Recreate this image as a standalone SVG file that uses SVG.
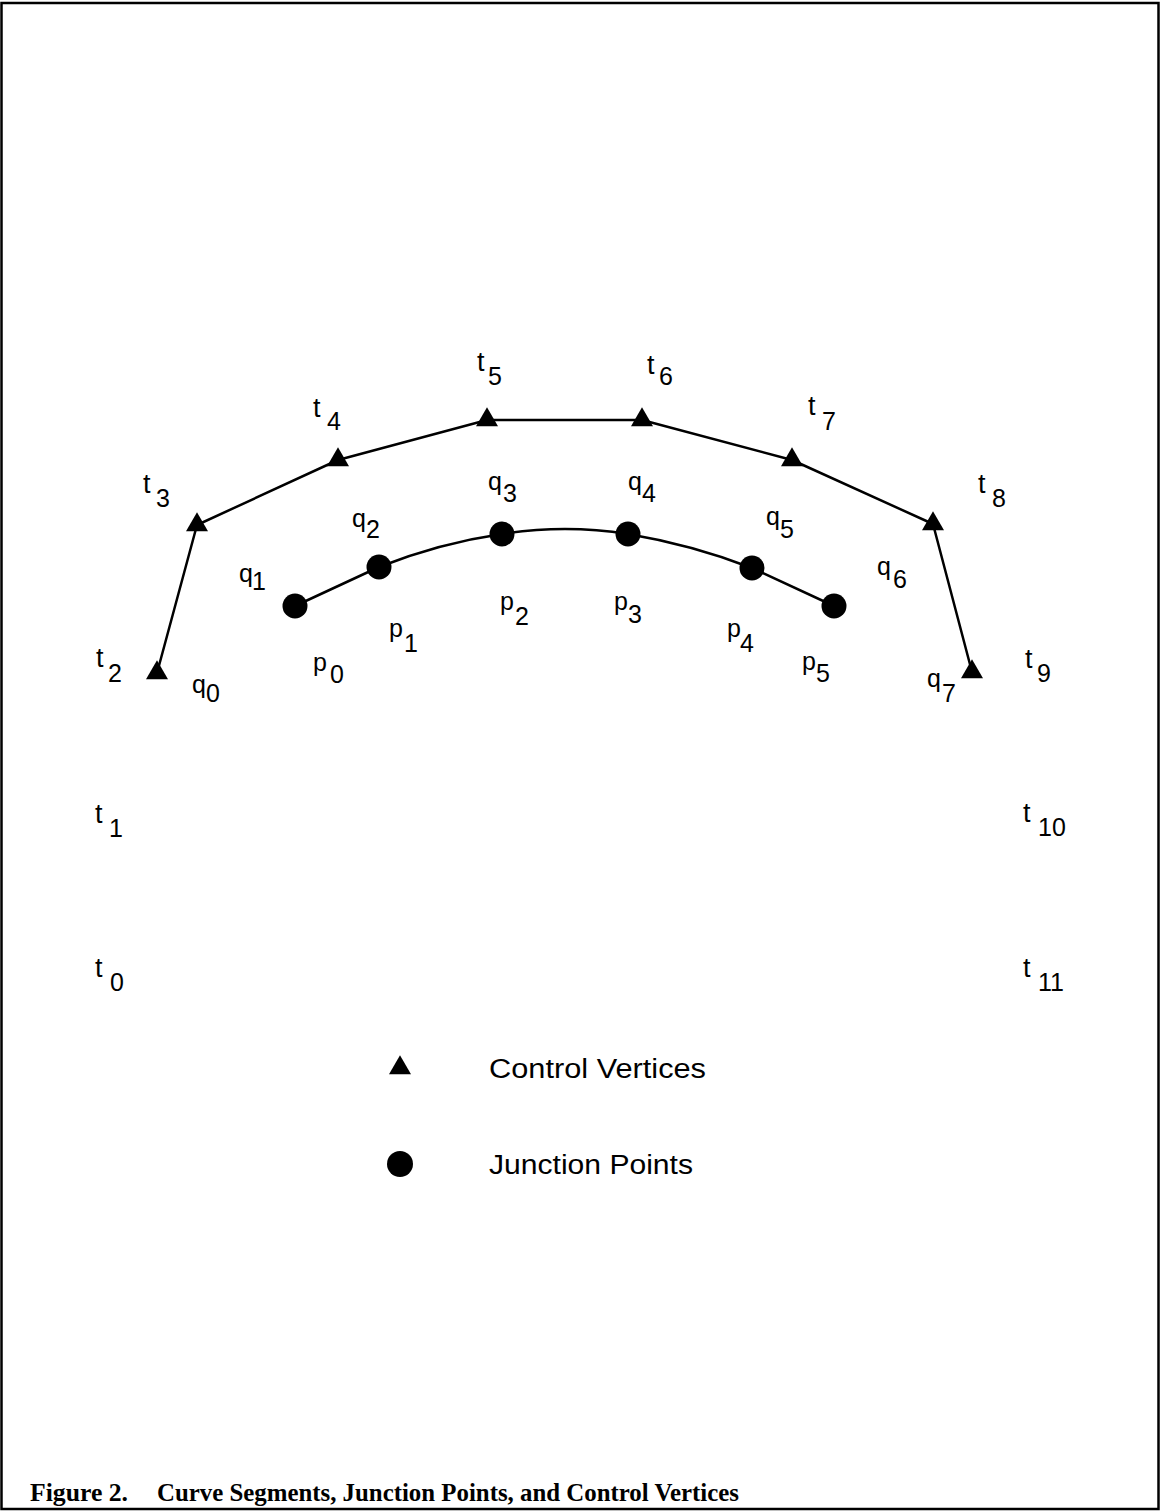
<svg xmlns="http://www.w3.org/2000/svg" width="1161" height="1512" viewBox="0 0 1161 1512">
<style>
.lbl{font-family:"Liberation Sans","DejaVu Sans",sans-serif;font-size:25px;fill:#000}
.lbl .tt{font-size:27px}
.leg{font-family:"Liberation Sans","DejaVu Sans",sans-serif;font-size:27px;fill:#000}
.cap{font-family:"Liberation Serif","Times New Roman",serif;font-size:26px;font-weight:bold;fill:#000}
.edge{fill:none;stroke:#000;stroke-width:2.5;stroke-linejoin:round}
.cv{fill:#000}
.jp{fill:#000}
</style>
<defs>
<polygon id="tri" points="0,-12.7 11,6.3 -11,6.3"/>
</defs>
<rect x="1.5" y="3" width="1157" height="1506" fill="#fff" stroke="#000" stroke-width="2.5"/>

<g id="connectors">
<polyline class="edge" points="157,673 197,525 338,460 487,420 642,420 792,460 933,524 972,672"/>
<path class="edge" d="M295,606 L379,567 Q440,543 502,534 Q565,524 628,534 Q693,545 752,568 L834,606"/>
</g>

<g id="vertices">
<g id="t2"><use href="#tri" class="cv" x="157" y="673"/><text class="lbl"><tspan class="tt" x="96" y="667">t</tspan><tspan x="108" y="682">2</tspan></text></g>
<g id="t3"><use href="#tri" class="cv" x="197" y="525"/><text class="lbl"><tspan class="tt" x="143" y="493">t</tspan><tspan x="156" y="507">3</tspan></text></g>
<g id="t4"><use href="#tri" class="cv" x="338" y="460"/><text class="lbl"><tspan class="tt" x="313" y="417">t</tspan><tspan x="327" y="430">4</tspan></text></g>
<g id="t5"><use href="#tri" class="cv" x="487" y="420"/><text class="lbl"><tspan class="tt" x="477" y="371">t</tspan><tspan x="488" y="385">5</tspan></text></g>
<g id="t6"><use href="#tri" class="cv" x="642" y="420"/><text class="lbl"><tspan class="tt" x="647" y="374">t</tspan><tspan x="659" y="385">6</tspan></text></g>
<g id="t7"><use href="#tri" class="cv" x="792" y="460"/><text class="lbl"><tspan class="tt" x="808" y="415">t</tspan><tspan x="822" y="430">7</tspan></text></g>
<g id="t8"><use href="#tri" class="cv" x="933" y="524"/><text class="lbl"><tspan class="tt" x="978" y="493">t</tspan><tspan x="992" y="507">8</tspan></text></g>
<g id="t9"><use href="#tri" class="cv" x="972" y="672"/><text class="lbl"><tspan class="tt" x="1025" y="668">t</tspan><tspan x="1037" y="682">9</tspan></text></g>
<g id="t0"><text class="lbl"><tspan class="tt" x="95" y="977">t</tspan><tspan x="110" y="991">0</tspan></text></g>
<g id="t1"><text class="lbl"><tspan class="tt" x="95" y="823">t</tspan><tspan x="109" y="837">1</tspan></text></g>
<g id="t10"><text class="lbl"><tspan class="tt" x="1023" y="822">t</tspan><tspan x="1038" y="836">10</tspan></text></g>
<g id="t11"><text class="lbl"><tspan class="tt" x="1023" y="977">t</tspan><tspan x="1038" y="991">11</tspan></text></g>
</g>

<g id="junctions">
<g id="p0"><circle class="jp" cx="295" cy="606" r="12.5"/><text class="lbl"><tspan x="313" y="671">p</tspan><tspan x="330" y="683">0</tspan></text></g>
<g id="p1"><circle class="jp" cx="379" cy="567" r="12.5"/><text class="lbl"><tspan x="389" y="637">p</tspan><tspan x="404" y="652">1</tspan></text></g>
<g id="p2"><circle class="jp" cx="502" cy="534" r="12.5"/><text class="lbl"><tspan x="500" y="610">p</tspan><tspan x="515" y="625">2</tspan></text></g>
<g id="p3"><circle class="jp" cx="628" cy="534" r="12.5"/><text class="lbl"><tspan x="614" y="610">p</tspan><tspan x="628" y="623">3</tspan></text></g>
<g id="p4"><circle class="jp" cx="752" cy="568" r="12.5"/><text class="lbl"><tspan x="727" y="637">p</tspan><tspan x="740" y="652">4</tspan></text></g>
<g id="p5"><circle class="jp" cx="834" cy="606" r="12.5"/><text class="lbl"><tspan x="802" y="670">p</tspan><tspan x="816" y="682">5</tspan></text></g>
</g>

<g id="segments">
<g id="q0"><text class="lbl"><tspan x="192" y="693">q</tspan><tspan x="206" y="702">0</tspan></text></g>
<g id="q1"><text class="lbl"><tspan x="239" y="582">q</tspan><tspan x="252" y="590">1</tspan></text></g>
<g id="q2"><text class="lbl"><tspan x="352" y="527">q</tspan><tspan x="366" y="538">2</tspan></text></g>
<g id="q3"><text class="lbl"><tspan x="488" y="490">q</tspan><tspan x="503" y="502">3</tspan></text></g>
<g id="q4"><text class="lbl"><tspan x="628" y="490">q</tspan><tspan x="642" y="502">4</tspan></text></g>
<g id="q5"><text class="lbl"><tspan x="766" y="525">q</tspan><tspan x="780" y="538">5</tspan></text></g>
<g id="q6"><text class="lbl"><tspan x="877" y="575">q</tspan><tspan x="893" y="588">6</tspan></text></g>
<g id="q7"><text class="lbl"><tspan x="927" y="687">q</tspan><tspan x="942" y="702">7</tspan></text></g>
</g>

<g id="legend">
<g id="legend-cv"><use href="#tri" class="cv" x="400" y="1068"/><text class="leg" x="489" y="1078" textLength="217" lengthAdjust="spacingAndGlyphs">Control Vertices</text></g>
<g id="legend-jp"><circle class="jp" cx="400" cy="1164" r="13"/><text class="leg" x="489" y="1174" textLength="204" lengthAdjust="spacingAndGlyphs">Junction Points</text></g>
</g>

<g id="caption">
<text class="cap" x="30" y="1501" textLength="98" lengthAdjust="spacingAndGlyphs">Figure 2.</text>
<text class="cap" x="157" y="1501" textLength="582" lengthAdjust="spacingAndGlyphs">Curve Segments, Junction Points, and Control Vertices</text>
</g>
</svg>
